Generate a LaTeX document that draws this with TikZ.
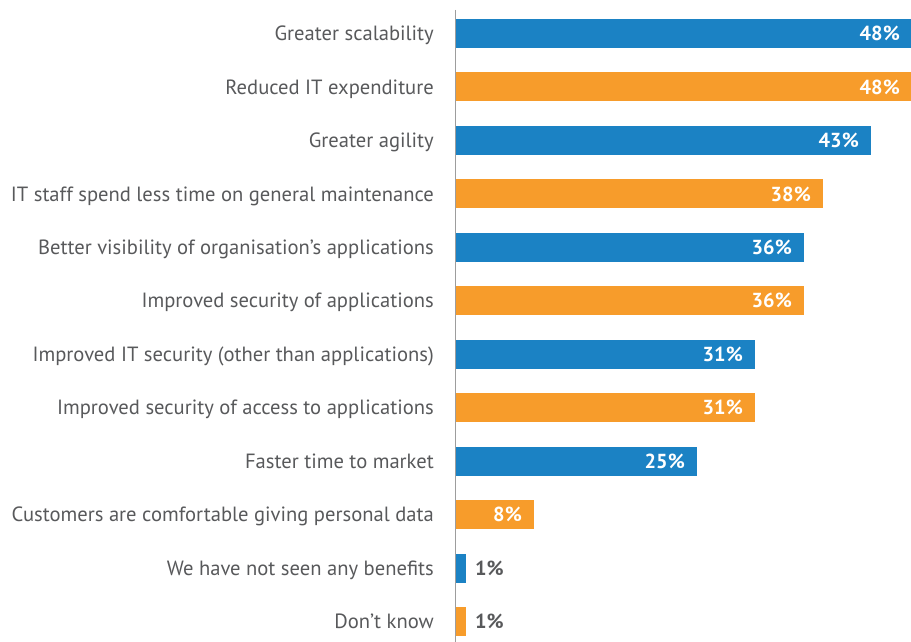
\documentclass[tikz,border=0pt]{standalone}
\usepackage{fontspec}
\setmainfont{PT Sans}
\definecolor{barblue}{HTML}{1B82C4}
\definecolor{barorange}{HTML}{F79C2B}
\definecolor{txtgray}{HTML}{58595B}
\definecolor{axisgray}{HTML}{9D9D9D}
\begin{document}
\begin{tikzpicture}[x=1pt,y=-1pt,
  lab/.style={anchor=base east,inner sep=0pt,text=txtgray,font=\fontsize{20.6}{24}\selectfont},
  pin/.style={anchor=base east,inner sep=0pt,text=white,font=\fontsize{20.3}{24}\selectfont\bfseries},
  pout/.style={anchor=base west,inner sep=0pt,text=txtgray,font=\fontsize{20.3}{24}\selectfont\bfseries},
  bb/.style={fill=barblue,draw=none},
  bo/.style={fill=barorange,draw=none}]
\useasboundingbox (0,0) rectangle (911,642);
\def\pitch{53.45}
\foreach \i/\txt/\e/\c/\p in {
 0/Greater scalability/912/bb/48,
 1/Reduced IT expenditure/912/bo/48,
 2/Greater agility/871/bb/43,
 3/IT staff spend less time on general maintenance/823/bo/38,
 4/Better visibility of organisation’s applications/804/bb/36,
 5/Improved security of applications/804/bo/36,
 6/Improved IT security (other than applications)/755/bb/31,
 7/Improved security of access to applications/755/bo/31,
 8/Faster time to market/697/bb/25,
 9/Customers are comfortable giving personal data/534/bo/8}{
  \pgfmathsetmacro{\yc}{33.5+\pitch*\i}
  \node[lab] (l\i) at (434,\yc+7.2) {\txt};
  \path[\c] (456,\yc-14.5) rectangle (\e,\yc+14.5);
  \pgfmathsetmacro{\xl}{min(\e-12,908)}
  \node[pin] (p\i) at (\xl,\yc+7.2) {\p\%};
}
\foreach \i/\txt/\c in {
 10/We have not seen any benefits/bb,
 11/Don’t know/bo}{
  \pgfmathsetmacro{\yc}{33.5+\pitch*\i}
  \node[lab] (l\i) at (434,\yc+7.2) {\txt};
  \path[\c] (456,\yc-14.5) rectangle (466,\yc+14.5);
  \node[pout] (p\i) at (475,\yc+7.2) {1\%};
}
\draw[axisgray,line width=1.5pt] (455.5,10) -- (455.5,642);
\end{tikzpicture}
\end{document}
